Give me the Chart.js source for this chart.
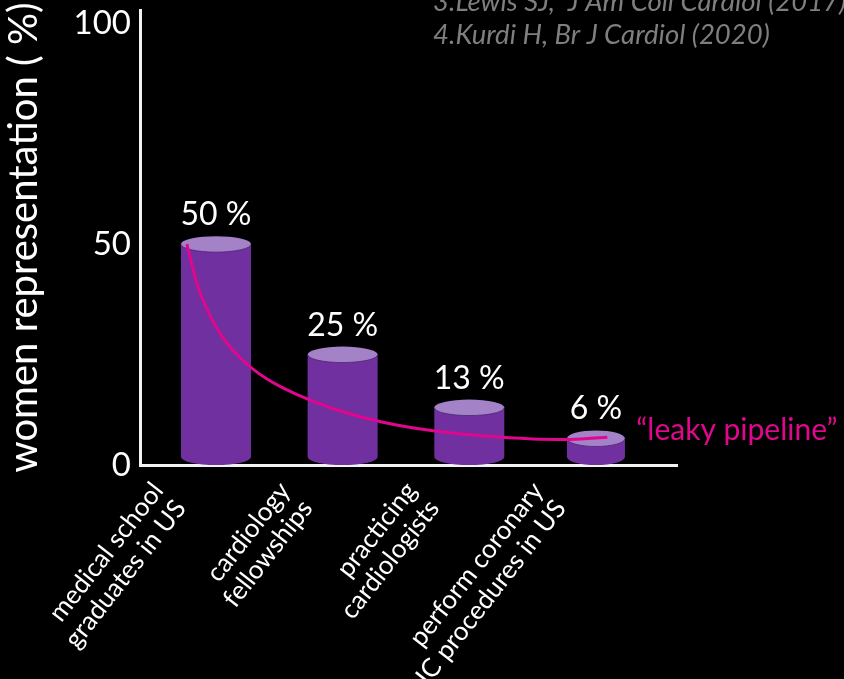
<!DOCTYPE html>
<html>
<head>
<meta charset="utf-8">
<script src="https://cdn.jsdelivr.net/npm/chart.js@4"></script>
<style>
  html, body { margin: 0; background: #000; }
  canvas { display: block; background: #000; }
</style>
</head>
<body>
<canvas id="chart" width="844" height="679"></canvas>
<script>
const categories = [
  ['medical school', 'graduates in US'],
  ['cardiology', 'fellowships'],
  ['practicing', 'cardiologists'],
  ['perform coronary', 'IC procedures in US']
];
const shares = [50, 25, 13, 6];
const yTicks = [0, 50, 100];
// "leaky pipeline" curve, x in category units (0 = first bar centre)
const pipeX = [-0.23, -0.15, -0.05, 0.05, 0.20, 0.40, 0.65, 0.95, 1.30, 1.70, 2.10, 2.50, 2.80, 3.09];
const pipeY = [50, 41, 34, 29, 24, 19.5, 15.8, 12.5, 9.8, 7.8, 6.6, 5.9, 5.8, 6.3];
const refs = ['3.Lewis SJ,  J Am Coll Cardiol (2017)', '4.Kurdi H, Br J Cardiol (2020)'];

const purple = '#7030A0';
const lilac = '#A482C8';
const magenta = '#E0078E';
const capW = [70, 70, 70, 58];

const cylinders = {
  id: 'cylinders',
  beforeDatasetsDraw(chart) {
    const ctx = chart.ctx;
    chart.getDatasetMeta(0).data.forEach((bar, i) => {
      const rx = capW[i] / 2, ry = 8;
      const x = bar.x, top = bar.y, bottom = bar.base - ry;
      ctx.save();
      ctx.fillStyle = purple;
      ctx.beginPath();
      ctx.moveTo(x - rx, top);
      ctx.lineTo(x - rx, bottom);
      ctx.ellipse(x, bottom, rx, ry, 0, Math.PI, 0, true);
      ctx.lineTo(x + rx, top);
      ctx.closePath();
      ctx.fill();
      ctx.fillStyle = lilac;
      ctx.beginPath();
      ctx.ellipse(x, top, rx, ry, 0, 0, Math.PI * 2);
      ctx.fill();
      ctx.strokeStyle = 'rgba(70,30,100,0.7)';
      ctx.lineWidth = 1;
      ctx.beginPath();
      ctx.ellipse(x, top, rx, ry, 0, 0, Math.PI);
      ctx.stroke();
      ctx.restore();
    });
  },
  afterDatasetsDraw(chart) {
    const ctx = chart.ctx;
    ctx.save();
    ctx.fillStyle = '#fff';
    ctx.font = '32px Lato';
    ctx.textAlign = 'center';
    ctx.textBaseline = 'alphabetic';
    chart.getDatasetMeta(0).data.forEach((bar, i) => {
      ctx.fillText(shares[i] + ' %', bar.x, bar.y - 19);
    });

    const pts = chart.getDatasetMeta(1).data;
    const last = pts[pts.length - 1];
    ctx.fillStyle = magenta;
    ctx.font = '30px Lato';
    ctx.textAlign = 'left';
    ctx.fillText('\u201Cleaky pipeline\u201D', last.x + 29, last.y + 3);

    ctx.fillStyle = '#7f7f7f';
    ctx.font = 'italic 27.5px Lato';
    refs.forEach((t, k) => ctx.fillText(t, 433, 11 + 33 * k));
    ctx.restore();
  }
};

new Chart(document.getElementById('chart'), {
  type: 'bar',
  data: {
    datasets: [
      {
        type: 'bar',
        data: shares.map((v, i) => ({ x: i, y: v })),
        backgroundColor: 'rgba(0,0,0,0)',
        barThickness: 70,
        grouped: false
      },
      {
        type: 'line',
        data: pipeX.map((x, i) => ({ x: x, y: pipeY[i] })),
        borderColor: magenta,
        borderWidth: 3,
        pointRadius: 0,
        cubicInterpolationMode: 'monotone',
        fill: false
      }
    ]
  },
  options: {
    responsive: false,
    animation: false,
    layout: { padding: { top: 10, right: 167, bottom: 0, left: 0 } },
    plugins: { legend: { display: false }, tooltip: { enabled: false } },
    scales: {
      x: {
        type: 'linear',
        offset: false,
        min: -0.6,
        max: 3.64,
        grid: { display: false },
        border: { color: '#f2f2f2', width: 3 },
        afterBuildTicks: s => { s.ticks = categories.map((c, i) => ({ value: i })); },
        ticks: {
          color: '#fff',
          font: { family: 'Lato', size: 26, lineHeight: 1.1 },
          minRotation: 52,
          maxRotation: 52,
          autoSkip: false,
          labelOffset: -58,
          padding: 4,
          callback: v => categories[v]
        },
        afterFit: s => { s.height = 214; s.paddingLeft = 0; s.paddingRight = 0; }
      },
      y: {
        min: 0,
        max: 103,
        grid: { display: false },
        border: { color: '#f2f2f2', width: 3 },
        ticks: { color: '#fff', font: { family: 'Lato', size: 33 }, padding: 1 },
        afterBuildTicks: s => { s.ticks = yTicks.map(v => ({ value: v })); },
        title: {
          display: true,
          text: 'women representation ( %)',
          color: '#fff',
          font: { family: 'Lato', size: 40 },
          padding: { top: 0, bottom: 4 }
        },
        afterFit: s => { s.width = 140; s.paddingTop = 0; s.paddingBottom = 0; }
      }
    }
  },
  plugins: [cylinders]
});
</script>
</body>
</html>
